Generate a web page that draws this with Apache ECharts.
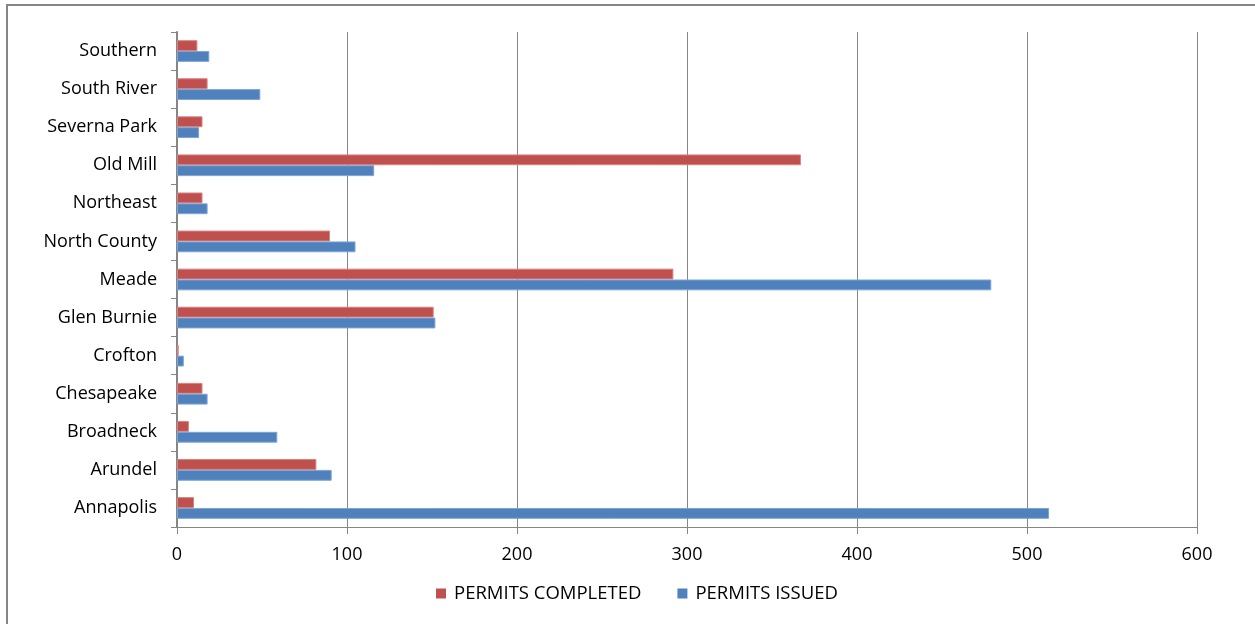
<!DOCTYPE html>
<html>
<head>
<meta charset="utf-8">
<script src="https://cdn.jsdelivr.net/npm/echarts@6/dist/echarts.min.js"></script>
<style>
  html, body { margin: 0; padding: 0; background: #fff; }
  #frame { position: absolute; left: 6px; top: 4px; width: 1260px; height: 640px;
           border-left: 2px solid #868686; border-top: 2px solid #868686; box-sizing: border-box; }
  #chart { position: absolute; left: 0; top: 0; width: 1255px; height: 624px; }
</style>
</head>
<body>
<div id="frame"></div>
<div id="chart"></div>
<script>
// Planning areas, listed bottom to top on the category axis
const areas = ['Annapolis', 'Arundel', 'Broadneck', 'Chesapeake', 'Crofton', 'Glen Burnie',
  'Meade', 'North County', 'Northeast', 'Old Mill', 'Severna Park', 'South River', 'Southern'];

const permitsCompleted = [10, 82, 7, 15, 1, 151, 292, 90, 15, 367, 15, 18, 12];
const permitsIssued    = [513, 91, 59, 18, 4, 152, 479, 105, 18, 116, 13, 49, 19];

const xTicks = { min: 0, max: 600, interval: 100 };

const font = "'Open Sans', 'Liberation Sans', sans-serif";
const chart = echarts.init(document.getElementById('chart'));

chart.setOption({
  animation: false,
  textStyle: { fontFamily: font },
  grid: { left: 177, right: 58, top: 32, bottom: 97, containLabel: false },
  legend: {
    data: ['PERMITS COMPLETED', 'PERMITS ISSUED'],
    bottom: 16,
    left: 431,
    itemWidth: 10, itemHeight: 10, itemGap: 36,
    icon: 'rect',
    itemStyle: { borderWidth: 0 },
    textStyle: { fontFamily: font, fontSize: 18.5, color: '#000', padding: [0, 0, 0, 3] }
  },
  xAxis: {
    type: 'value',
    min: xTicks.min, max: xTicks.max, interval: xTicks.interval,
    axisLine: { show: true, lineStyle: { color: '#868686', width: 1 } },
    axisTick: { show: true, length: 7, lineStyle: { color: '#868686' } },
    axisLabel: { color: '#000', fontSize: 18, fontFamily: font, margin: 19 },
    splitLine: { show: true, lineStyle: { color: '#868686', width: 1 } }
  },
  yAxis: {
    type: 'category',
    data: areas,
    axisLine: { show: true, lineStyle: { color: '#868686', width: 2 } },
    axisTick: { show: true, length: 6, inside: false, alignWithLabel: false, lineStyle: { color: '#868686' } },
    axisLabel: { color: '#000', fontSize: 18, fontFamily: font, margin: 20 },
    splitLine: { show: false }
  },
  series: [
    {
      name: 'PERMITS COMPLETED',
      type: 'bar',
      data: permitsCompleted,
      barGap: '0%',
      barCategoryGap: '43%',
      itemStyle: { color: '#C0504D', borderColor: '#D68280', borderWidth: 1 }
    },
    {
      name: 'PERMITS ISSUED',
      type: 'bar',
      data: permitsIssued,
      barGap: '0%',
      barCategoryGap: '43%',
      itemStyle: { color: '#4F81BD', borderColor: '#7FA3D3', borderWidth: 1 }
    }
  ]
});
</script>
</body>
</html>
